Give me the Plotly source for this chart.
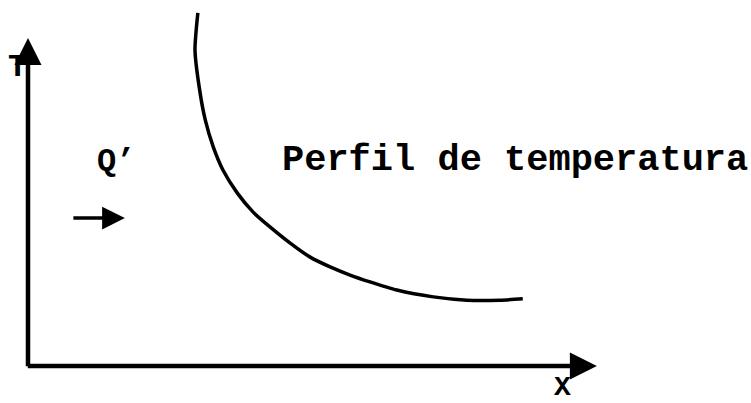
import plotly.graph_objects as go

# Temperature profile across the wall (arbitrary units)
curve_x = [2.98, 2.93, 3.02, 3.11, 3.25, 3.42, 3.67, 3.95, 4.25, 4.60, 4.95, 5.30,
           5.65, 6.00, 6.47, 7.11, 7.70, 8.28, 8.68]
curve_y = [10.83, 9.69, 8.37, 7.55, 6.72, 6.01, 5.31, 4.72, 4.26, 3.77, 3.34, 3.04,
           2.79, 2.58, 2.33, 2.12, 2.02, 2.02, 2.06]

# Axis extents and heat-flow arrow
x_axis_end = 9.98
y_axis_end = 10.06
heat_arrow_x = [0.77, 1.70]
heat_arrow_y = 4.54

label_font = dict(family="Liberation Mono", size=37, color="black")

fig = go.Figure()
fig.add_trace(go.Scatter(
    x=curve_x, y=curve_y, mode="lines",
    line=dict(color="black", width=3.5, shape="spline", smoothing=0.6),
    hoverinfo="skip", showlegend=False,
))

def arrow(x0, y0, x1, y1, width, size):
    fig.add_annotation(
        x=x1, y=y1, ax=x0, ay=y0, xref="x", yref="y", axref="x", ayref="y",
        text="", showarrow=True, arrowhead=2, arrowsize=size, arrowwidth=width,
        arrowcolor="black",
    )

arrow(0, -0.05, 0, y_axis_end, 4.5, 1.2)
arrow(-0.03, 0, x_axis_end, 0, 4.5, 1.2)
arrow(heat_arrow_x[0], heat_arrow_y, heat_arrow_x[1], heat_arrow_y, 3.5, 1.3)

fig.add_annotation(x=-0.19, y=9.17, text="<b>T</b>", showarrow=False,
                   font=dict(family="Liberation Mono", size=32, color="black"))
fig.add_annotation(x=1.54, y=6.26, text="<b>Q\u2019</b>", showarrow=False,
                   font=dict(family="Liberation Mono", size=32, color="black"))
fig.add_annotation(x=4.42, y=6.32, text="<b>Perfil de temperatura</b>", showarrow=False,
                   xanchor="left", font=label_font)
fig.add_annotation(x=9.37, y=-0.65, text="<b>X</b>", showarrow=False,
                   font=dict(family="Liberation Mono", size=28, color="black"))

fig.update_layout(
    width=751, height=403, margin=dict(l=0, r=0, t=0, b=0),
    paper_bgcolor="white", plot_bgcolor="white",
    xaxis=dict(range=[-0.491, 12.684], visible=False, fixedrange=True),
    yaxis=dict(range=[-1.135, 11.227], visible=False, fixedrange=True),
)

fig.write_html("out.html")
